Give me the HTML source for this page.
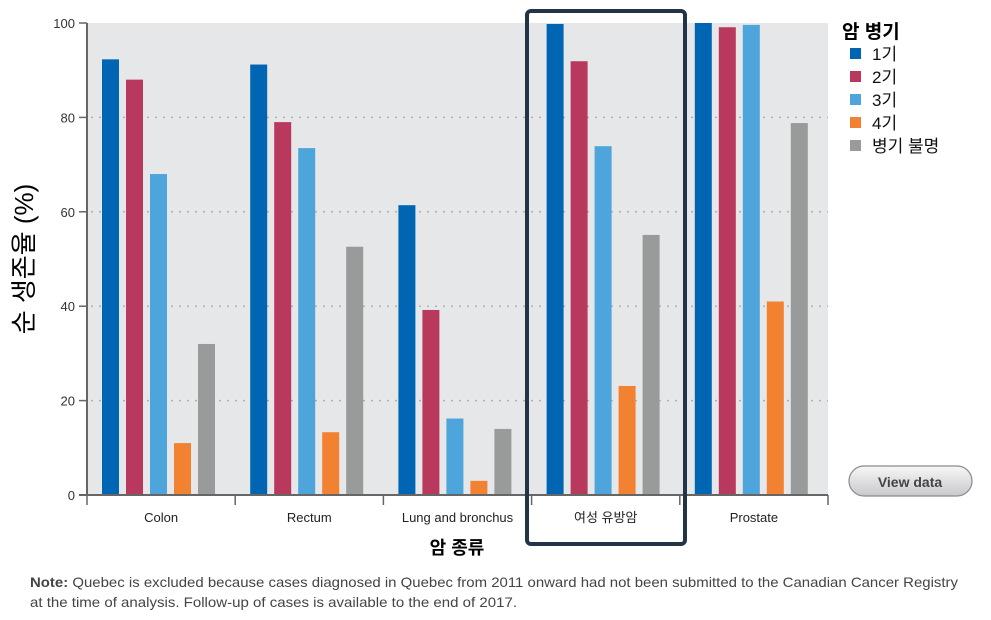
<!DOCTYPE html>
<html><head><meta charset="utf-8"><style>
body{margin:0;background:#fff;width:991px;height:615px;overflow:hidden;font-family:"Liberation Sans","Noto Sans CJK KR",sans-serif;}
svg text{font-family:"Liberation Sans","Noto Sans CJK KR",sans-serif;}
</style></head><body>
<svg width="991" height="615" id="chart">
<rect x="87" y="23" width="741" height="472" fill="#e6e7e9"/>
<g id="grid"></g><g id="bars"></g><g id="axes"></g>
<text x="24" y="259" transform="rotate(-90 24 259)" text-anchor="middle" dominant-baseline="central" font-size="26" fill="#000">순 생존율 (%)</text>
<text x="457" y="554" text-anchor="middle" font-size="18" font-weight="bold" fill="#000">암 종류</text>
<rect x="527" y="11" width="158" height="533" rx="4" fill="none" stroke="#243447" stroke-width="4"/>
<g>
<text x="842" y="38" font-size="19" font-weight="bold" fill="#000">암 병기</text>
<g id="legend"></g>
</g>
<g>
<defs><linearGradient id="btn" x1="0" y1="0" x2="0" y2="1"><stop offset="0" stop-color="#f7f7f7"/><stop offset="1" stop-color="#c9c9cc"/></linearGradient></defs>
<rect x="849" y="466" width="123" height="30" rx="15" fill="url(#btn)" stroke="#8a8a90" stroke-width="1.2"/>
<text x="910" y="487" text-anchor="middle" font-size="14" font-weight="bold" fill="#444">View data</text>
</g>
<text x="30" y="587" font-size="14" fill="#444" textLength="928" lengthAdjust="spacingAndGlyphs"><tspan font-weight="bold">Note:</tspan> Quebec is excluded because cases diagnosed in Quebec from 2011 onward had not been submitted to the Canadian Cancer Registry</text>
<text x="30" y="607" font-size="14" fill="#444" textLength="487" lengthAdjust="spacingAndGlyphs">at the time of analysis. Follow-up of cases is available to the end of 2017.</text>
</svg>
<script>
const categories=["Colon","Rectum","Lung and bronchus","여성 유방암","Prostate"];
const seriesNames=["1기","2기","3기","4기","병기 불명"];
const stage1=[92.3,91.2,61.4,99.8,100];
const stage2=[88,79,39.2,91.9,99.1];
const stage3=[68,73.5,16.2,73.9,99.6];
const stage4=[11,13.3,3,23.1,41];
const unknown=[32,52.6,14,55.1,78.8];
const yTicks=[0,20,40,60,80,100];
const colors=["#0066b3","#b8385e","#4ea5dc","#f28232","#999a9a"];
const series=[stage1,stage2,stage3,stage4,unknown];
const X0=87,X1=828,Y0=495,Y1=23;
const gw=(X1-X0)/categories.length;
const y=v=>Y0-(v/100)*(Y0-Y1);
const xg=i=>X0+i*gw;
const NS="http://www.w3.org/2000/svg";
function mk(t,a,p){const e=document.createElementNS(NS,t);for(const k in a)e.setAttribute(k,a[k]);p.appendChild(e);return e;}
const grid=document.getElementById('grid'),bars=document.getElementById('bars'),axes=document.getElementById('axes'),leg=document.getElementById('legend');
yTicks.forEach(t=>{
 if(t>0&&t<100){const l=mk('line',{x1:X0+4,x2:X1,y1:y(t),y2:y(t),stroke:'#b0b0b4','stroke-width':1.5,'stroke-dasharray':'2 6'},grid);
 
 }
 const tk=mk('line',{x1:X0-8,x2:X0,y1:y(t),y2:y(t),stroke:'#666','stroke-width':1.5},axes);
 
 
 const tx=mk('text',{x:X0-12,y:y(t)+5,'text-anchor':'end','font-size':13,fill:'#333'},axes);
 tx.textContent=t;
 
 
});
categories.forEach((c,i)=>{
 series.forEach((s,j)=>{
  const bx=xg(i)+15+j*24;
  const r=mk('rect',{x:bx,y:y(s[i]),width:17,height:Y0-y(s[i]),fill:colors[j]},bars);
  
  
 });
 const tx=mk('text',{x:xg(i)+gw/2,y:522,'text-anchor':'middle','font-size':13,fill:'#222'},axes);
 tx.textContent=c;
 
 
});
for(let i=0;i<=categories.length;i++){
 const t=mk('line',{x1:xg(i),x2:xg(i),y1:Y0,y2:Y0+10,stroke:'#666','stroke-width':1.5},axes);
 
 
}
const ya=mk('line',{x1:X0,x2:X0,y1:Y1,y2:Y0,stroke:'#666','stroke-width':2},axes);


const xa=mk('line',{x1:X0-8,x2:X1,y1:Y0,y2:Y0,stroke:'#666','stroke-width':2},axes);


seriesNames.forEach((n,j)=>{
 const yy=48+j*23;
 const r=mk('rect',{x:850,y:yy,width:11,height:11,fill:colors[j]},leg);
 
 
 const t=mk('text',{x:872,y:yy+12,'font-size':17,fill:'#111'},leg);
 t.textContent=n;
 
 
});
</script>
</body></html>
